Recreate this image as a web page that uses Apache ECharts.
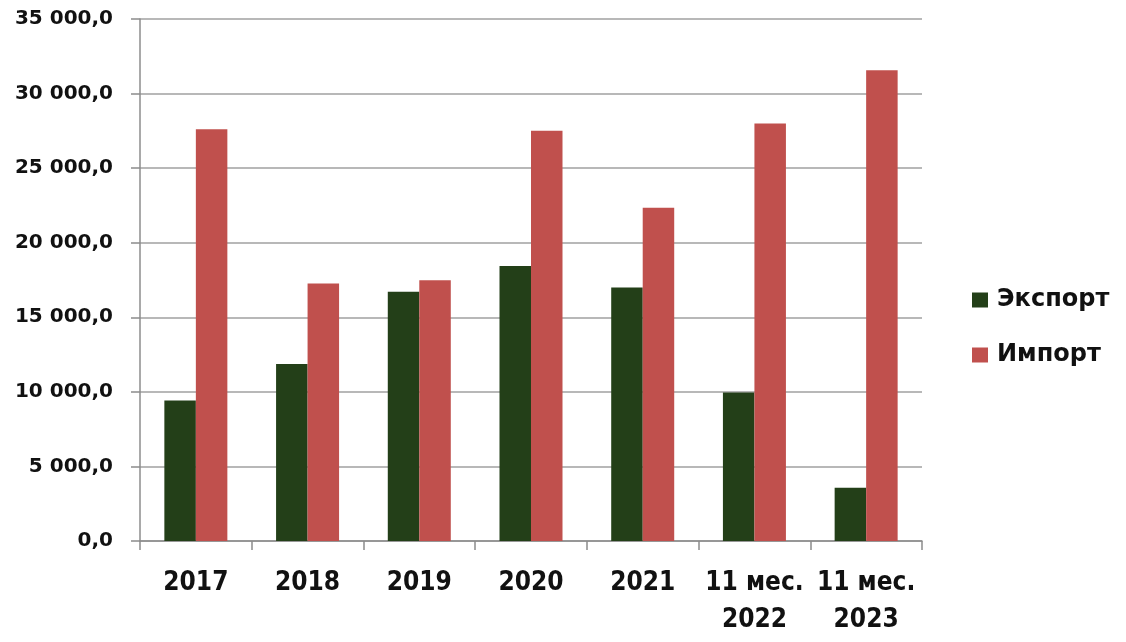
<!DOCTYPE html>
<html><head><meta charset="utf-8">
<script src="https://cdn.jsdelivr.net/npm/echarts@6/dist/echarts.min.js"></script>
<style>html,body{margin:0;padding:0;background:#fff}#c{width:1126px;height:642px}</style>
</head><body><div id="c"></div>
<script>
const categories = ['2017', '2018', '2019', '2020', '2021', '11 мес.\n2022', '11 мес.\n2023'];
const seriesNames = ['Экспорт', 'Импорт'];
const exportValues = [9420, 11860, 16720, 18440, 16990, 9960, 3570];
const importValues = [27600, 17260, 17480, 27500, 22350, 28000, 31570];
const yTicks = [0, 5000, 10000, 15000, 20000, 25000, 30000, 35000];

function fmt(v) {
  const s = Math.round(v).toString().replace(/\B(?=(\d{3})+(?!\d))/g, ' ');
  return s + ',0';
}

const chart = echarts.init(document.getElementById('c'), null, {renderer: 'canvas'});
chart.setOption({
  animation: false,
  backgroundColor: '#ffffff',
  grid: {left: 140, right: 204, top: 19, bottom: 101, containLabel: false, outerBoundsMode: 'none'},
  legend: {
    orient: 'vertical',
    left: 967,
    top: 283,
    itemWidth: 16,
    itemHeight: 15,
    itemGap: 31,
    icon: 'rect',
    data: seriesNames,
    textStyle: {fontFamily: 'DejaVu Sans', fontWeight: 'bold', fontSize: 24, color: '#111', padding: [0, 0, 0, 4]}
  },
  xAxis: {
    type: 'category',
    data: categories,
    axisLine: {lineStyle: {color: '#8c8c8c', width: 1.5}},
    axisTick: {show: true, length: 9, lineStyle: {color: '#8c8c8c', width: 1.5}},
    axisLabel: {
      margin: 24, color: '#111', fontFamily: '"DejaVu Sans Condensed", sans-serif',
      fontWeight: 'bold', fontSize: 26, lineHeight: 37, interval: 0
    }
  },
  yAxis: {
    type: 'value',
    min: yTicks[0], max: yTicks[yTicks.length - 1], interval: yTicks[1] - yTicks[0],
    axisLine: {show: true, lineStyle: {color: '#8c8c8c', width: 1.5}},
    axisTick: {show: true, length: 9, lineStyle: {color: '#8c8c8c', width: 1.5}},
    splitLine: {show: true, lineStyle: {color: '#a0a0a0', width: 1.5}},
    axisLabel: {
      margin: 27, color: '#111', fontFamily: 'DejaVu Sans', fontWeight: 'bold', fontSize: 20,
      formatter: fmt
    }
  },
  series: [
    {name: seriesNames[0], type: 'bar', data: exportValues, barWidth: 31.5, barGap: '0%', itemStyle: {color: '#233f18'}},
    {name: seriesNames[1], type: 'bar', data: importValues, barWidth: 31.5, barGap: '0%', itemStyle: {color: '#c0504d'}}
  ]
});
</script></body></html>
